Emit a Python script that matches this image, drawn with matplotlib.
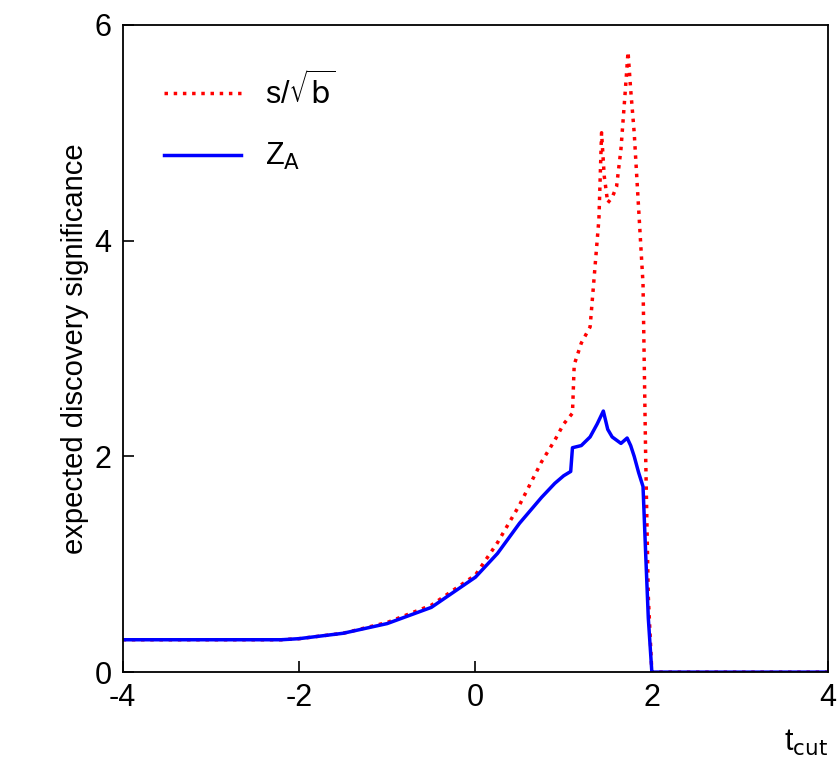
import matplotlib
matplotlib.use("Agg")
import matplotlib.pyplot as plt

plt.rcParams['font.family'] = ['Liberation Sans', 'DejaVu Sans']
plt.rcParams['axes.unicode_minus'] = False

# s/sqrt(b)
x_red = [-4.0, -2.2, -2.0, -1.5, -1.0, -0.5, 0.0, 0.25, 0.5, 0.75, 0.9, 1.0, 1.1, 1.12, 1.2, 1.3, 1.35, 1.4,
         1.43, 1.46, 1.5, 1.55, 1.6, 1.65, 1.7, 1.73, 1.76, 1.8, 1.85, 1.9, 1.93, 1.96, 2.0, 4.0]
y_red = [0.30, 0.30, 0.31, 0.36, 0.46, 0.62, 0.90, 1.20, 1.55, 1.95, 2.15, 2.30, 2.40, 2.85, 3.05, 3.20, 3.70, 4.20,
         5.00, 4.60, 4.35, 4.40, 4.50, 4.85, 5.40, 5.75, 5.40, 5.00, 4.30, 3.60, 2.00, 0.70, 0.0, 0.0]
# Z_A
x_blue = [-4.0, -2.2, -2.0, -1.5, -1.0, -0.5, 0.0, 0.25, 0.5, 0.75, 0.9, 1.0, 1.08, 1.1, 1.2, 1.3, 1.38, 1.45,
          1.5, 1.55, 1.65, 1.72, 1.76, 1.8, 1.85, 1.9, 1.93, 1.96, 2.0, 4.0]
y_blue = [0.30, 0.30, 0.31, 0.36, 0.45, 0.60, 0.88, 1.10, 1.38, 1.62, 1.75, 1.82, 1.86, 2.08, 2.10, 2.18, 2.30, 2.42,
          2.25, 2.18, 2.12, 2.17, 2.10, 2.00, 1.85, 1.72, 1.10, 0.50, 0.0, 0.0]

fig = plt.figure(figsize=(8.4, 7.77), dpi=100)
ax = fig.add_axes([0.146, 0.135, 0.84, 0.833])
ax.plot(x_red, y_red, color='red', linestyle=':', linewidth=2.5, label=r's/$\sqrt{\mathrm{b}}$')
ax.plot(x_blue, y_blue, color='blue', linewidth=2.5, label=r'Z$_\mathrm{A}$')
ax.set_xlim(-4, 4)
ax.set_ylim(0, 6)
ax.set_xticks([-4, -2, 0, 2, 4])
ax.set_yticks([0, 2, 4, 6])
ax.tick_params(labelsize=22, direction='in', length=8, width=1.2, pad=8)
for s in ax.spines.values():
    s.set_linewidth(1.3)
ax.set_ylabel('expected discovery significance', fontsize=21)
ax.text(1.0, -0.11, r't$_\mathrm{cut}$', transform=ax.transAxes, ha='right', va='center', fontsize=22)
ax.legend(loc='upper left', fontsize=22, frameon=False, handlelength=2.5, labelspacing=1.0,
          bbox_to_anchor=(0.02, 0.97))
fig.savefig('out.png')
